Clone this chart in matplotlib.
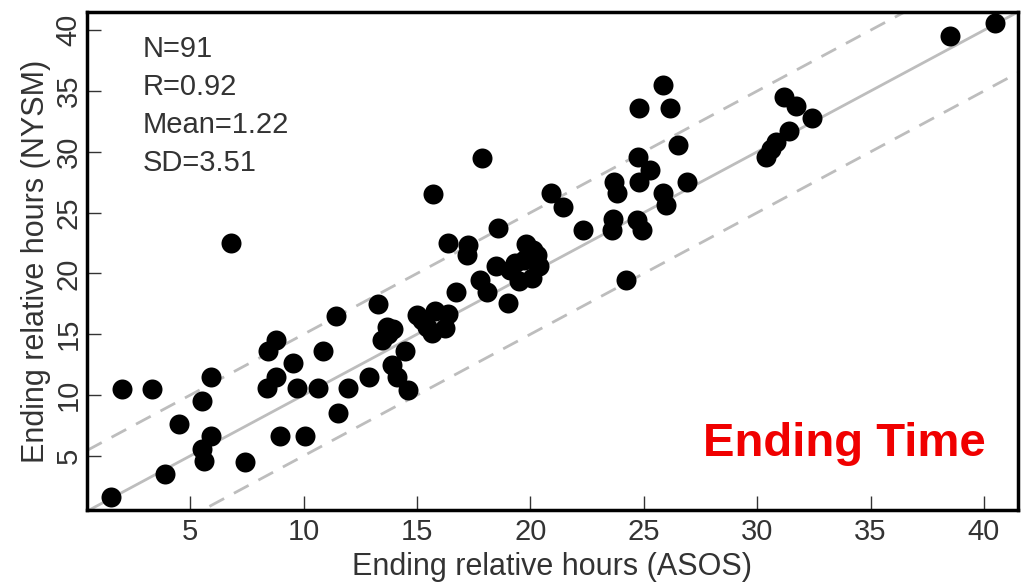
import matplotlib
matplotlib.use("Agg")
import matplotlib.pyplot as plt
import numpy as np

plt.rcParams['font.family'] = ['Liberation Sans', 'DejaVu Sans']

# ending relative hours, ASOS (x) vs NYSM (y)
asos = [1.5, 2.0, 3.3, 3.9, 4.5, 5.5, 5.9, 5.9, 5.5, 5.6, 6.8, 7.4,
        8.4, 8.45, 8.8, 8.8, 8.95, 9.55, 9.7, 10.07, 10.65, 10.87, 11.43, 11.53, 11.97,
        12.9, 13.27, 13.67, 13.45, 13.96, 14.47, 13.89, 14.1, 14.6,
        14.99, 15.43, 15.79, 16.38, 16.23, 15.65,
        15.72, 17.85, 16.38, 17.26, 17.19, 18.58, 16.7, 17.78, 18.1, 19.0,
        18.5, 19.1, 19.5, 19.8, 20.05, 19.7, 20.3, 20.4,
        20.93, 21.45, 22.3, 24.2,
        24.75, 25.26, 24.8, 23.7, 23.8, 26.9, 25.85, 26.0, 23.65, 23.6, 24.7, 24.9,
        24.8, 25.85, 26.15, 26.5,
        31.2, 31.7, 32.4, 31.4, 30.85, 30.4, 38.5, 40.5,
        20.1, 19.3, 15.2, 13.7, 30.6]
nysm = [1.6, 10.5, 10.5, 3.5, 7.6, 9.5, 11.5, 6.6, 5.6, 4.6, 22.5, 4.5,
        10.6, 13.6, 14.5, 11.5, 6.6, 12.6, 10.6, 6.6, 10.6, 13.6, 16.5, 8.5, 10.6,
        11.5, 17.5, 15.6, 14.5, 15.4, 13.6, 12.5, 11.5, 10.4,
        16.6, 15.6, 16.9, 16.7, 15.5, 15.1,
        26.5, 29.5, 22.5, 22.35, 21.5, 23.7, 18.5, 19.5, 18.5, 17.6,
        20.6, 20.3, 19.4, 22.4, 19.6, 21.1, 21.5, 20.6,
        26.6, 25.5, 23.6, 19.5,
        29.6, 28.5, 27.55, 27.55, 26.6, 27.55, 26.6, 25.6, 24.5, 23.6, 24.4, 23.6,
        33.6, 35.5, 33.6, 30.6,
        34.5, 33.8, 32.8, 31.7, 30.8, 29.6, 39.5, 40.6,
        21.9, 20.9, 16.2, 15.0, 30.2]
stats = ["N=91", "R=0.92", "Mean=1.22", "SD=3.51"]
ticks = [5, 10, 15, 20, 25, 30, 35, 40]

fig = plt.figure(figsize=(10.30, 5.82), dpi=100)
ax = fig.add_axes([0.0845, 0.1237, 0.9038, 0.8557])

lims = [0.45, 41.5]
ax.plot(lims, lims, color='#bdbdbd', lw=2, zorder=1)
ax.plot(lims, [lims[0] + 5, lims[1] + 5], color='#bdbdbd', lw=2, ls=(0, (6, 4)), zorder=1)
ax.plot(lims, [lims[0] - 5, lims[1] - 5], color='#bdbdbd', lw=2, ls=(0, (6, 4)), zorder=1)

ax.plot(asos, nysm, 'o', color='black', ms=14.4, mew=0, zorder=2)

ax.set_xlim(0.45, 41.5)
ax.set_ylim(0.55, 41.5)
ax.set_xticks(ticks)
ax.set_yticks(ticks)
ax.tick_params(direction='in', length=10, width=1, labelsize=21, colors='#333333')
ax.tick_params(axis='x', pad=6)
ax.tick_params(axis='y', pad=3)
for lab in ax.get_yticklabels():
    lab.set_rotation(90)
    lab.set_va('center')
for s in ax.spines.values():
    s.set_linewidth(2.5)
    s.set_color('black')

ax.set_xlabel("Ending relative hours (ASOS)", fontsize=22, labelpad=4, color='#333333')
ax.set_ylabel("Ending relative hours (NYSM)", fontsize=22, labelpad=3, color='#333333')

for i, t in enumerate(stats):
    ax.text(0.06, 0.925 - i * 0.076, t, transform=ax.transAxes, fontsize=21,
            va='center', ha='left', color='#333333')

ax.text(0.965, 0.108, "Ending Time", transform=ax.transAxes, fontsize=34,
        fontweight='bold', color='#f00000', ha='right', va='baseline')

plt.savefig("out.png", dpi=100)
